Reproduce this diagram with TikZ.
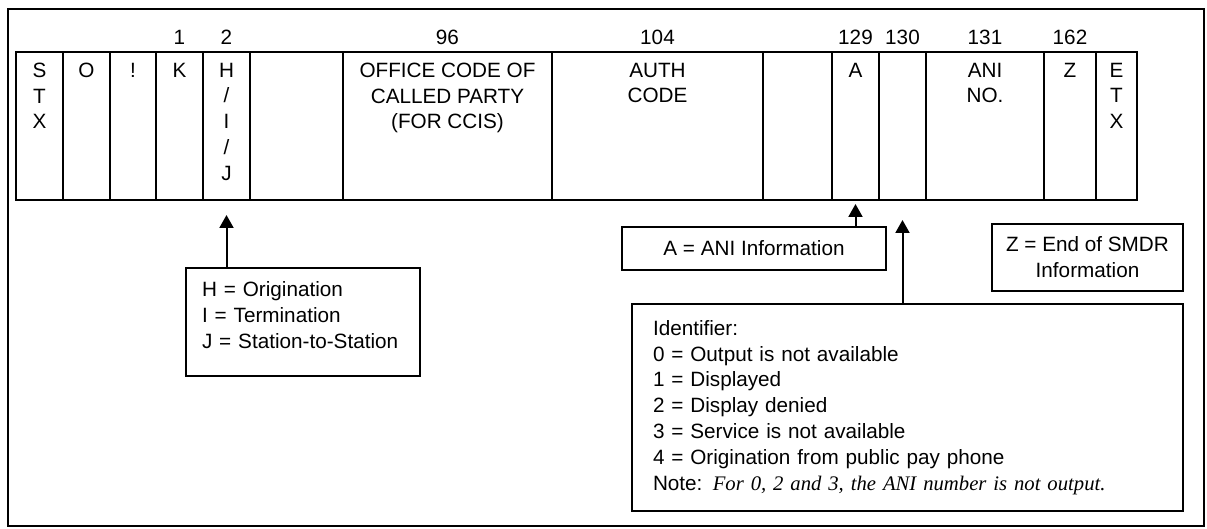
\documentclass[tikz,border=0pt]{standalone}
\usepackage{fontspec}
\setmainfont{Liberation Sans}
\newfontfamily\notefont{Liberation Serif}
\usetikzlibrary{arrows.meta}

\tikzset{
  cell/.style={draw,line width=1pt,minimum height=74pt,inner sep=0pt,outer sep=0pt},
  celltext/.style={anchor=north,align=center,inner sep=0pt},
  num/.style={inner sep=0pt},
  infobox/.style={draw,line width=1pt,inner sep=0pt,outer sep=0pt},
  pointer/.style={line width=1pt,-{Triangle[width=7pt,length=6.5pt]}},
}

\begin{document}
\begin{tikzpicture}[x=0.5pt,y=-0.5pt,font=\fontsize{10.35pt}{12.9pt}\selectfont]
    \useasboundingbox (0,0) rectangle (1207,529);
    \draw[line width=1pt] (8,9) rectangle (1204,526);

    \node[cell,minimum width=23.5pt] (stx) at (39.5,126) {};
    \node[cell,minimum width=23.5pt] (o) at (86.5,126) {};
    \node[cell,minimum width=23pt] (excl) at (133,126) {};
    \node[cell,minimum width=23.5pt] (k) at (179.5,126) {};
    \node[cell,minimum width=23.5pt] (hij) at (226.5,126) {};
    \node[cell,minimum width=46.5pt] (blanka) at (296.5,126) {};
    \node[cell,minimum width=104.5pt] (office) at (447.5,126) {};
    \node[cell,minimum width=105.5pt] (auth) at (657.5,126) {};
    \node[cell,minimum width=34.5pt] (blankb) at (797.5,126) {};
    \node[cell,minimum width=23.5pt] (acol) at (855.5,126) {};
    \node[cell,minimum width=23.5pt] (ident) at (902.5,126) {};
    \node[cell,minimum width=59pt] (ani) at (985,126) {};
    \node[cell,minimum width=26pt] (zcol) at (1070,126) {};
    \node[cell,minimum width=20.5pt] (etx) at (1116.5,126) {};

    \node[celltext] (stxtext) at (39.5,62.5) {S\\T\\X};
    \node[celltext] (otext) at (86.5,62.5) {O};
    \node[celltext] (excltext) at (133,62.5) {!};
    \node[celltext] (ktext) at (179.5,62.5) {K};
    \node[celltext] (hijtext) at (226.5,62.5) {H\\/\\I\\/\\J};
    \node[celltext] (officetext) at (447.5,62.5) {OFFICE CODE OF\\CALLED PARTY\\(FOR CCIS)};
    \node[celltext] (authtext) at (657.5,62.5) {AUTH\\CODE};
    \node[celltext] (atext) at (855.5,62.5) {A};
    \node[celltext] (anitext) at (985,62.5) {ANI\\NO.};
    \node[celltext] (ztext) at (1070,62.5) {Z};
    \node[celltext] (etxtext) at (1116.5,62.5) {E\\T\\X};

    \node[num] (pos1) at (179.5,37) {1};
    \node[num] (pos2) at (226.5,37) {2};
    \node[num] (pos96) at (447.5,37) {96};
    \node[num] (pos104) at (657.5,37) {104};
    \node[num] (pos129) at (855.5,37) {129};
    \node[num] (pos130) at (902.5,37) {130};
    \node[num] (pos131) at (985,37) {131};
    \node[num] (pos162) at (1070,37) {162};

    \node[infobox,anchor=north,text width=101pt,inner xsep=8pt,inner ysep=6.8pt,text depth=33pt,align=left] (hbox) at (303,268) {H = Origination\\I = Termination\\J = Station-to-Station};
    \node[infobox,minimum width=132pt,minimum height=21.5pt] (abox) at (754,248.5) {A = ANI Information};
    \node[infobox,minimum width=95.5pt,minimum height=33.5pt,align=center] (zbox) at (1087.5,257.5) {Z = End of SMDR\\Information};
    \node[infobox,minimum height=103.5pt,text width=254.5pt,inner xsep=10.5pt,align=left] (idbox) at (907.5,407.5) {Identifier:\\0 = Output is not available\\1 = Displayed\\2 = Display denied\\3 = Service is not available\\4 = Origination from public pay phone\\Note: {\notefont\itshape For 0, 2 and 3, the ANI number is not output.}};

    \draw[pointer] (hbox.north -| hij.south) -- ([yshift=-7.5pt]hij.south);
    \draw[pointer] (abox.north -| acol.south) -- ([yshift=-2pt]acol.south);
    \draw[pointer] (idbox.north -| ident.south) -- ([yshift=-10pt]ident.south);
\end{tikzpicture}
\end{document}
